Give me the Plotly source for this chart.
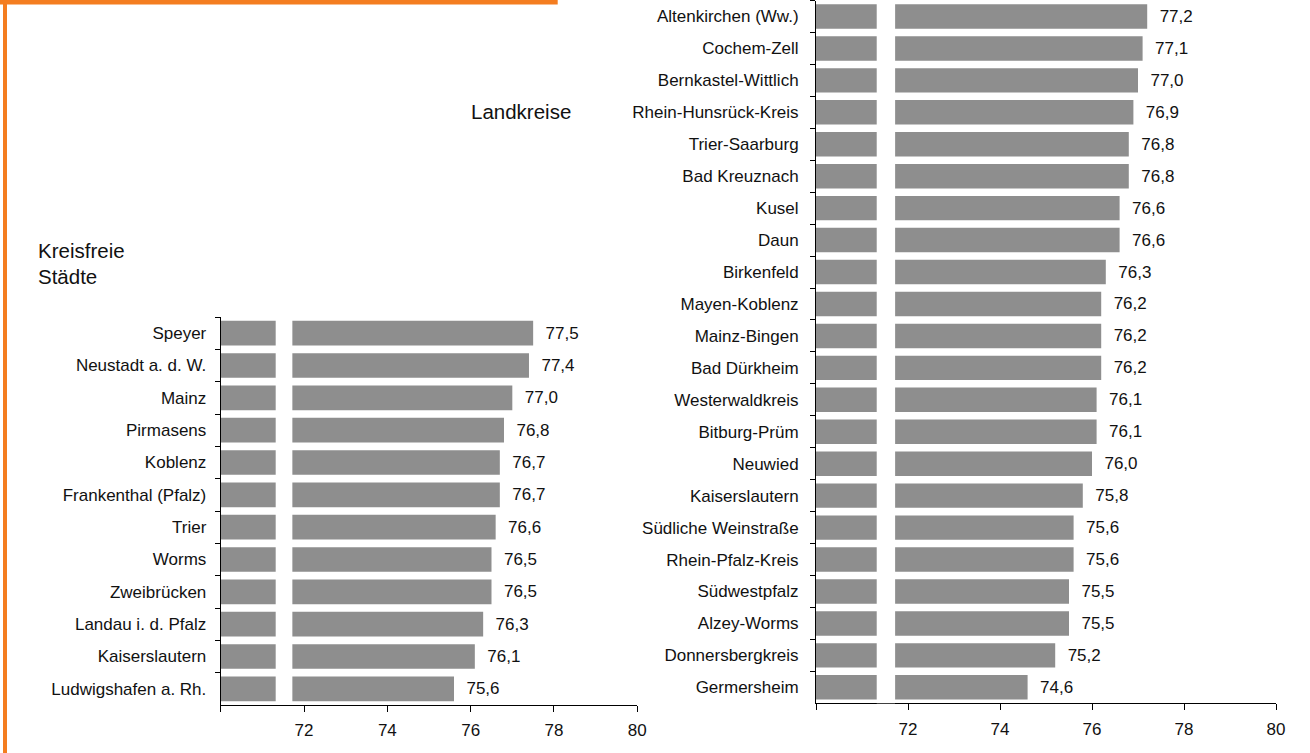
import plotly.graph_objects as go

W, H = 1310, 753

staedte = ["Speyer", "Neustadt a. d. W.", "Mainz", "Pirmasens", "Koblenz",
           "Frankenthal (Pfalz)", "Trier", "Worms", "Zweibrücken",
           "Landau i. d. Pfalz", "Kaiserslautern", "Ludwigshafen a. Rh."]
staedte_vals = [77.5, 77.4, 77.0, 76.8, 76.7, 76.7, 76.6, 76.5, 76.5, 76.3, 76.1, 75.6]

kreise = ["Altenkirchen (Ww.)", "Cochem-Zell", "Bernkastel-Wittlich",
          "Rhein-Hunsrück-Kreis", "Trier-Saarburg", "Bad Kreuznach", "Kusel",
          "Daun", "Birkenfeld", "Mayen-Koblenz", "Mainz-Bingen", "Bad Dürkheim",
          "Westerwaldkreis", "Bitburg-Prüm", "Neuwied", "Kaiserslautern",
          "Südliche Weinstraße", "Rhein-Pfalz-Kreis", "Südwestpfalz",
          "Alzey-Worms", "Donnersbergkreis", "Germersheim"]
kreise_vals = [77.2, 77.1, 77.0, 76.9, 76.8, 76.8, 76.6, 76.6, 76.3, 76.2, 76.2,
               76.2, 76.1, 76.1, 76.0, 75.8, 75.6, 75.6, 75.5, 75.5, 75.2, 74.6]

tick_vals = [70, 72, 74, 76, 78, 80]
tick_text = ["", "72", "74", "76", "78", "80"]
axis_break = (71.32, 71.72)

FONT = "Liberation Sans, Arial, Helvetica, sans-serif"
BAR = "#8e8e8e"
ORANGE = "#f47d20"


def px_x(p):
    return p / W


def px_y(p):
    return 1 - p / H


fig = go.Figure()
fig.add_trace(go.Bar(
    x=staedte_vals, y=staedte, orientation="h", marker_color=BAR,
    marker_line_width=0, texttemplate="  %{x:.1f}", textposition="outside",
    textfont=dict(size=17, color="#111", family=FONT), cliponaxis=False,
    xaxis="x", yaxis="y", showlegend=False))
fig.add_trace(go.Bar(
    x=kreise_vals, y=kreise, orientation="h", marker_color=BAR,
    marker_line_width=0, texttemplate="  %{x:.1f}", textposition="outside",
    textfont=dict(size=17, color="#111", family=FONT), cliponaxis=False,
    xaxis="x2", yaxis="y2", showlegend=False))

xcommon = dict(range=[70, 80], tickvals=tick_vals, ticktext=tick_text,
               showline=True, linecolor="black", linewidth=1, ticks="outside",
               ticklen=6, tickcolor="black", showgrid=False, zeroline=False,
               tickfont=dict(size=17, color="#111", family=FONT),
               automargin=False, fixedrange=True, ticklabelstandoff=4)
ycommon = dict(type="category", autorange="reversed", showline=True,
               linecolor="black", linewidth=1, ticks="outside", ticklen=5,
               tickcolor="black", tickson="boundaries", showgrid=False,
               tickfont=dict(size=17, color="#111", family=FONT),
               automargin=False, fixedrange=True)

fig.update_layout(
    width=W, height=H, margin=dict(l=0, r=0, t=0, b=0),
    paper_bgcolor="white", plot_bgcolor="white", separators=",.",
    bargap=0.235, font=dict(family=FONT, color="#111"),
    xaxis=dict(domain=[px_x(220.7), px_x(637.3)], anchor="y", **xcommon),
    yaxis=dict(domain=[px_y(705), px_y(317)], anchor="x",
               categoryorder="array", categoryarray=staedte,
               ticklabelstandoff=10, **ycommon),
    xaxis2=dict(domain=[px_x(816), px_x(1276)], anchor="y2", **xcommon),
    yaxis2=dict(domain=[px_y(703.3), px_y(0.5)], anchor="x2",
                categoryorder="array", categoryarray=kreise,
                ticklabelstandoff=13, **ycommon),
)

shapes = []
for xr, yr in (("x", "y domain"), ("x2", "y2 domain")):
    shapes.append(dict(type="rect", xref=xr, yref=yr, x0=axis_break[0],
                       x1=axis_break[1], y0=0, y1=0.999, fillcolor="white",
                       line_width=0, layer="above"))
shapes.append(dict(type="rect", xref="paper", yref="paper", x0=0,
                   x1=px_x(557.7), y0=px_y(4.6), y1=1, fillcolor=ORANGE,
                   line_width=0, layer="above"))
shapes.append(dict(type="rect", xref="paper", yref="paper", x0=px_x(3),
                   x1=px_x(7), y0=0, y1=1, fillcolor=ORANGE, line_width=0,
                   layer="above"))
fig.update_layout(shapes=shapes)

annos = [("Landkreise", 470.7, 112), ("Kreisfreie", 38.3, 251),
         ("Städte", 38.3, 276.5)]
for txt, ax, ay in annos:
    fig.add_annotation(text=txt, x=px_x(ax), y=px_y(ay), xref="paper",
                       yref="paper", xanchor="left", yanchor="middle",
                       showarrow=False, xshift=-2,
                       font=dict(size=20.5, color="#111", family=FONT))

fig.write_html("out.html",
               config={"displayModeBar": False},
               post_script="document.body.style.margin='0';"
                           "document.body.style.overflow='hidden';")
